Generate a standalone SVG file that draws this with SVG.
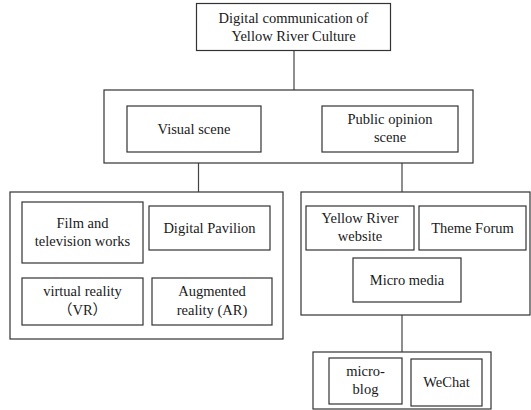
<svg xmlns="http://www.w3.org/2000/svg" width="531" height="410" viewBox="0 0 531 410">
<style>
rect{fill:#fff;stroke:#333;stroke-width:1.2}
.c line{stroke:#444;stroke-width:1.2}
text{font-family:'Liberation Serif','Noto Sans CJK SC',serif;font-size:14.5px;fill:#1a1a1a;text-anchor:middle}
</style>
<rect x="0" y="0" width="531" height="410" style="stroke:none"/>
<g class="c" id="connectors">
<line x1="294" y1="50" x2="294" y2="90"/>
<line x1="198.5" y1="163" x2="198.5" y2="192"/>
<line x1="402" y1="163" x2="402" y2="192"/>
<line x1="402" y1="315" x2="402" y2="352"/>
</g>
<g id="root"><rect x="196.5" y="3.5" width="194" height="47"/><text x="293.5" y="22.5">Digital communication of</text><text x="293.5" y="40.5">Yellow River Culture</text></g>
<g id="scenes"><rect x="104" y="90" width="369" height="73"/></g>
<g id="visual"><rect x="127" y="106" width="134" height="46"/><text x="194" y="134">Visual scene</text></g>
<g id="public"><rect x="322" y="106" width="136" height="46"/><text x="390" y="124">Public opinion</text><text x="390" y="142">scene</text></g>
<g id="visualGroup"><rect x="10" y="192" width="273" height="147"/></g>
<g id="film"><rect x="22" y="202" width="121" height="61"/><text x="82.5" y="228">Film and</text><text x="82.5" y="246">television works</text></g>
<g id="pavilion"><rect x="149" y="206" width="121" height="44"/><text x="209.5" y="233">Digital Pavilion</text></g>
<g id="vr"><rect x="22" y="278" width="121" height="47"/><text x="82.5" y="296">virtual reality</text><text x="82.5" y="315">（VR）</text></g>
<g id="ar"><rect x="152" y="278" width="120" height="47"/><text x="212" y="296">Augmented</text><text x="212" y="315">reality (AR)</text></g>
<g id="publicGroup"><rect x="301" y="192" width="229" height="123"/></g>
<g id="website"><rect x="306" y="206" width="108" height="44"/><text x="360" y="223">Yellow River</text><text x="360" y="241">website</text></g>
<g id="forum"><rect x="419" y="206" width="107" height="44"/><text x="472.5" y="233">Theme Forum</text></g>
<g id="micromedia"><rect x="353" y="258" width="108" height="44"/><text x="407" y="285">Micro media</text></g>
<g id="microGroup"><rect x="313" y="352" width="178" height="57"/></g>
<g id="microblog"><rect x="329" y="358" width="73" height="46"/><text x="365.5" y="376">micro-</text><text x="365.5" y="394">blog</text></g>
<g id="wechat"><rect x="411" y="359" width="71" height="47"/><text x="446.5" y="387">WeChat</text></g>
</svg>
